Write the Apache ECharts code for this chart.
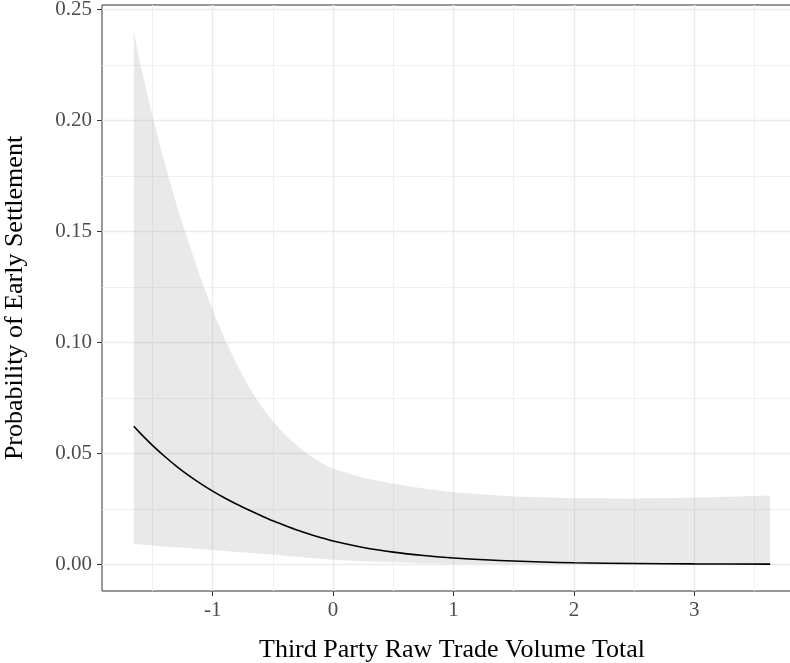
<!DOCTYPE html>
<html>
<head>
<meta charset="utf-8">
<script src="https://cdn.jsdelivr.net/npm/echarts@6/dist/echarts.min.js"></script>
<style>
  html, body { margin: 0; padding: 0; background: #fff; }
  #chart { width: 790px; height: 663px; }
</style>
</head>
<body>
<div id="chart"></div>
<script>
// predicted probability vs third party raw trade volume
var xs = [-1.655, -1.6, -1.5, -1.4, -1.3, -1.2, -1.1, -1.0, -0.9, -0.8, -0.7, -0.6, -0.5,
    -0.4, -0.3, -0.2, -0.1, 0, 0.25, 0.5, 0.75, 1, 1.5, 2, 2.5, 3, 3.63];
var fit = [0.0622, 0.0590, 0.0536, 0.0487, 0.0442, 0.0401, 0.0364, 0.0330, 0.0299, 0.0271,
    0.0245, 0.0220, 0.0196, 0.0175, 0.0155, 0.0137, 0.0120, 0.0105, 0.0076, 0.0055, 0.0040,
    0.0029, 0.0015, 0.0007, 0.0004, 0.0002, 0.0001];
var upper = [0.240, 0.225, 0.202, 0.181, 0.162, 0.145, 0.129, 0.1145, 0.1015, 0.0900, 0.0800,
    0.0715, 0.0645, 0.0585, 0.0535, 0.0493, 0.0458, 0.0430, 0.0390, 0.0363, 0.0342, 0.0325,
    0.0306, 0.0298, 0.0297, 0.0300, 0.0310];
var lower = [0.0092, 0.0089, 0.0085, 0.0081, 0.0077, 0.0073, 0.0069, 0.0065, 0.0060, 0.0056,
    0.0052, 0.0048, 0.0044, 0.0039, 0.0034, 0.0030, 0.0025, 0.0021, 0.0014, 0.0009, 0.0005,
    0.0003, 0.0001, 0, 0, 0, 0];

var xTicks = [-1, 0, 1, 2, 3];
var xMinor = [-1.5, -0.5, 0.5, 1.5, 2.5, 3.5];
var yTicks = [0, 0.05, 0.1, 0.15, 0.2, 0.25];
var yMinor = [0.025, 0.075, 0.125, 0.175, 0.225];

var font = 'Liberation Serif';
var xMin = -1.919, xMax = 3.894, yMin = -0.012, yMax = 0.252;

function pairs(a) {
    return xs.map(function (x, i) { return [x, a[i]]; });
}

var chart = echarts.init(document.getElementById('chart'));

// confidence ribbon: upper edge left->right, lower edge back right->left
function renderBand(params, api) {
    var pts = [];
    for (var i = 0; i < xs.length; i++) {
        pts.push(api.coord([xs[i], upper[i]]));
    }
    for (var j = xs.length - 1; j >= 0; j--) {
        pts.push(api.coord([xs[j], lower[j]]));
    }
    return {
        type: 'polygon',
        shape: { points: pts },
        style: { fill: 'rgba(153,153,153,0.22)' },
        silent: true
    };
}

var option = {
    animation: false,
    grid: {
        left: 102, top: 5, width: 700, height: 586,
        outerBoundsMode: 'none',
        containLabel: false,
        show: true, borderColor: '#333333', borderWidth: 1, backgroundColor: 'transparent'
    },
    xAxis: [{
        type: 'value', min: xMin, max: xMax,
        name: 'Third Party Raw Trade Volume Total',
        nameLocation: 'middle', nameGap: 46,
        nameTextStyle: { fontFamily: font, fontSize: 26, color: '#000' },
        axisLine: { show: false, onZero: false },
        axisTick: { show: true, length: 5, customValues: xTicks, lineStyle: { color: '#333333' } },
        axisLabel: {
            customValues: xTicks, margin: 9, fontFamily: font, fontSize: 21, color: '#4D4D4D',
            formatter: function (v) { return String(v); }
        },
        splitLine: { show: true, lineStyle: { color: '#EBEBEB', width: 1.4 } }
    }, {
        type: 'value', min: xMin, max: xMax, position: 'bottom',
        axisLine: { show: false, onZero: false },
        axisTick: { show: false, customValues: xMinor },
        axisLabel: { show: false, customValues: xMinor },
        splitLine: { show: true, lineStyle: { color: '#F0F0F0', width: 1 } }
    }],
    yAxis: [{
        type: 'value', min: yMin, max: yMax,
        name: 'Probability of Early Settlement',
        nameLocation: 'middle', nameGap: 74, nameRotate: 90,
        nameTextStyle: { fontFamily: font, fontSize: 26, color: '#000' },
        axisLine: { show: false, onZero: false },
        axisTick: { show: true, length: 5, customValues: yTicks, lineStyle: { color: '#333333' } },
        axisLabel: {
            customValues: yTicks, margin: 10, fontFamily: font, fontSize: 21, color: '#4D4D4D',
            formatter: function (v) { return v.toFixed(2); }
        },
        splitLine: { show: true, lineStyle: { color: '#EBEBEB', width: 1.4 } }
    }, {
        type: 'value', min: yMin, max: yMax, position: 'left',
        axisLine: { show: false, onZero: false },
        axisTick: { show: false, customValues: yMinor },
        axisLabel: { show: false, customValues: yMinor },
        splitLine: { show: true, lineStyle: { color: '#F0F0F0', width: 1 } }
    }],
    series: [{
        name: 'band',
        type: 'custom',
        renderItem: renderBand,
        data: [0],
        silent: true,
        z: 2
    }, {
        name: 'fit',
        type: 'line',
        data: pairs(fit),
        symbol: 'none',
        smooth: 0.3,
        lineStyle: { color: '#000', width: 1.6 },
        silent: true,
        z: 3
    }]
};

chart.setOption(option);
</script>
</body>
</html>
